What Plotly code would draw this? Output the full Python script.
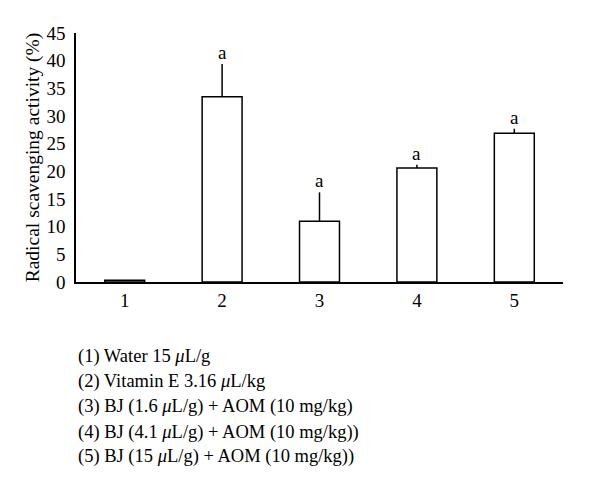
import plotly.graph_objects as go

categories = [1, 2, 3, 4, 5]
values = [0.3, 33.5, 11.0, 20.6, 26.9]
errors = [0.0, 5.9, 5.2, 0.6, 0.8]
sig_labels = ["", "a", "a", "a", "a"]
y_ticks = [0, 5, 10, 15, 20, 25, 30, 35, 40, 45]
legend_lines = [
    "(1) Water 15 <i>μ</i>L/g",
    "(2) Vitamin E 3.16 <i>μ</i>L/kg",
    "(3) BJ (1.6 <i>μ</i>L/g) + AOM (10 mg/kg)",
    "(4) BJ (4.1 <i>μ</i>L/g) + AOM (10 mg/kg))",
    "(5) BJ (15 <i>μ</i>L/g) + AOM (10 mg/kg))",
]

FONT = "Liberation Serif"

fig = go.Figure()
fig.add_trace(go.Bar(
    x=categories, y=values, width=0.41,
    marker=dict(color="white", line=dict(color="black", width=1.5)),
    error_y=dict(type="data", array=errors, arrayminus=[0]*len(errors),
                 symmetric=False, width=0, thickness=1.5, color="black"),
    showlegend=False,
))

annotations = []
for c, v, e, s in zip(categories, values, errors, sig_labels):
    if s:
        annotations.append(dict(x=c, y=v + e, text=s, showarrow=False,
                                yanchor="bottom", yshift=-1,
                                font=dict(family=FONT, size=19, color="black")))

# legend text lines below the plot (paper coords)
line_pix = [356, 381, 406, 432, 457]
plot_top, plot_bottom = 33, 282
for txt, p in zip(legend_lines, line_pix):
    annotations.append(dict(xref="paper", yref="paper", x=0.0, xshift=0,
                            y=(plot_bottom - p) / (plot_bottom - plot_top),
                            text=txt, showarrow=False, xanchor="left", yanchor="middle",
                            align="left", font=dict(family=FONT, size=18.5, color="black")))

fig.update_layout(
    width=600, height=492,
    margin=dict(l=68, r=45, t=25, b=218),
    plot_bgcolor="white", paper_bgcolor="white",
    font=dict(family=FONT, size=19, color="black"),
    annotations=annotations,
    xaxis=dict(range=[0.5, 5.5], tickvals=categories, ticktext=[str(c) for c in categories],
               showline=True, linecolor="black", linewidth=1.5, showgrid=False,
               zeroline=False, ticks="", tickfont=dict(family=FONT, size=19)),
    yaxis=dict(range=[0, 45], tickvals=y_ticks, showline=True, linecolor="black",
               linewidth=1.5, showgrid=False, zeroline=False, ticks="",
               ticklabelstandoff=5,
               tickfont=dict(family=FONT, size=19),
               title=dict(text="Radical scavenging activity (%)",
                          font=dict(family=FONT, size=19.5), standoff=2)),
)

fig.write_html("out.html")
